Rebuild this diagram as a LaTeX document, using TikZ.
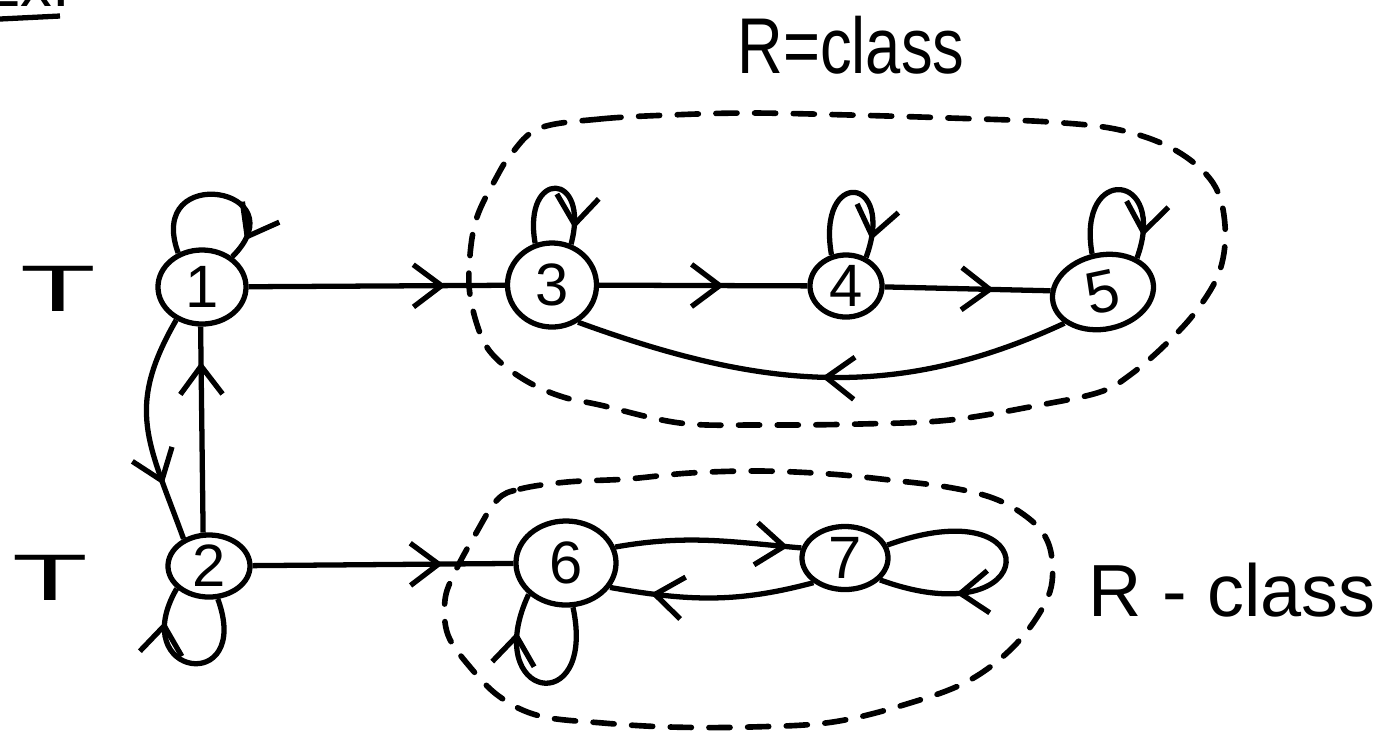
\documentclass[tikz,border=0pt]{standalone}
\usepackage{fontspec}
\setmainfont{Liberation Sans}
\usepackage{graphicx}
\usetikzlibrary{shapes.geometric,arrows.meta,decorations.markings}
\begin{document}
\begin{tikzpicture}[x=0.01cm,y=0.01cm,
  st/.style={draw, ellipse, line width=1.5pt, inner sep=0pt, font=\fontsize{17}{17}\selectfont},
  ln/.style={line width=1.5pt},
  dsh/.style={line width=1.6pt, dash pattern=on 6pt off 5pt, line cap=round},
  marrow/.style={postaction={decorate}, decoration={markings, mark=at position #1 with {\arrow{Straight Barb[length=8pt,width=12pt,line width=1.5pt]}}}},
  lbl/.style={inner sep=0pt},
  tlbl/.style={inner sep=0pt, font=\fontsize{22}{22}\selectfont},
]
\useasboundingbox (0,0) rectangle (1396,-738);
\clip (0,0) rectangle (1396,-738);

% title (cropped at top, as in the reference)
\node[lbl, anchor=base west, font=\fontsize{18}{18}\selectfont] (ex) at (-22,-6) {Ex.};
\draw[ln] (0,-19) -- (60,-16);

% T labels
\node[tlbl] (t1) at (58,-289) {\scalebox{1.6}[0.85]{T}};
\node[tlbl] (t2) at (50,-578) {\scalebox{1.6}[0.85]{T}};

% class labels
\node[lbl, font=\fontsize{18}{18}\selectfont] (rc1) at (851,-45) {\scalebox{1}[1.25]{R=class}};
\node[lbl, font=\fontsize{21}{21}\selectfont] (rc2) at (1232,-590) {R - class};

% states
\node[st, minimum width=0.88cm, minimum height=0.74cm] (n1) at (202,-287) {1};
\node[st, minimum width=0.82cm, minimum height=0.62cm] (n2) at (209,-566) {2};
\node[st, minimum width=0.89cm, minimum height=0.84cm] (n3) at (552,-285) {3};
\node[st, minimum width=0.72cm, minimum height=0.62cm] (n4) at (846,-286) {4};
\node[st, minimum width=1.02cm, minimum height=0.74cm, rotate=12] (n5) at (1103,-292) {5};
\node[st, minimum width=1.00cm, minimum height=0.84cm] (n6) at (566,-563) {6};
\node[st, minimum width=0.86cm, minimum height=0.63cm] (n7) at (845,-558) {7};

% R-class regions
\draw[dsh] plot[smooth cycle, tension=0.6] coordinates {
 (540,-128) (600,-119) (670,-115) (750,-113) (850,-115) (950,-118) (1050,-122)
 (1120,-130) (1175,-150) (1213,-183) (1225,-225) (1220,-270) (1197,-310)
 (1165,-345) (1130,-375) (1100,-392) (1040,-405) (950,-420) (860,-424)
 (760,-425) (680,-423) (600,-405) (563,-397) (530,-383) (500,-362)
 (482,-338) (470,-295) (470,-255) (477,-217) (495,-180) (512,-153)};
\draw[dsh] plot[smooth cycle, tension=0.6] coordinates {
 (497,-500) (520,-489) (567,-482) (627,-479) (690,-473) (760,-471) (830,-474)
 (890,-480) (947,-487) (990,-497) (1020,-512) (1043,-533) (1052,-560)
 (1048,-597) (1017,-643) (970,-680) (910,-703) (833,-722) (750,-727)
 (670,-727) (603,-723) (540,-716) (500,-697) (470,-667) (448,-635)
 (445,-600) (455,-572) (475,-535)};

% edges
\draw[ln, marrow=0.77] (n1) -- (n3);
\draw[ln, marrow=0.6] (n3) -- (n4);
\draw[ln, marrow=0.66] (n4) -- (n5);
\draw[ln, marrow=0.5] (n5.207) to[out=205, in=-20] (n3.-55);
\draw[ln, marrow=0.75] (n1.232) to[out=240, in=110, looseness=1.2] (n2.133);
\draw[ln, marrow=0.83] (n2.100) -- (n1.268);
\draw[ln, marrow=0.73] (n2) -- (n6);
\draw[ln, marrow=0.93] (n6.18) to[out=10, in=175] (n7.167);
\draw[ln, marrow=0.8] (n7.218) to[out=195, in=-10] (n6.-29);

% self loops
\draw[ln, marrow=0.88] (n1.125) to[out=110, in=45, looseness=4.6] (n1.45);
\draw[ln, marrow=0.88] (n3.112) to[out=100, in=75, looseness=5.4] (n3.65);
\draw[ln, marrow=0.88] (n4.115) to[out=100, in=70, looseness=6.5] (n4.55);
\draw[ln, marrow=0.86] (n5.94) to[out=100, in=70, looseness=5.2] (n5.33);
\draw[ln, marrow=0.8] (n2.-75) to[out=-70, in=-120, looseness=6.2] (n2.215);
\draw[ln, marrow=0.8] (n6.-81) to[out=-78, in=-115, looseness=6.4] (n6.220);
\draw[ln, marrow=0.72] (n7.17) to[out=20, in=-20, looseness=12.5] (n7.-32);
\end{tikzpicture}
\end{document}
